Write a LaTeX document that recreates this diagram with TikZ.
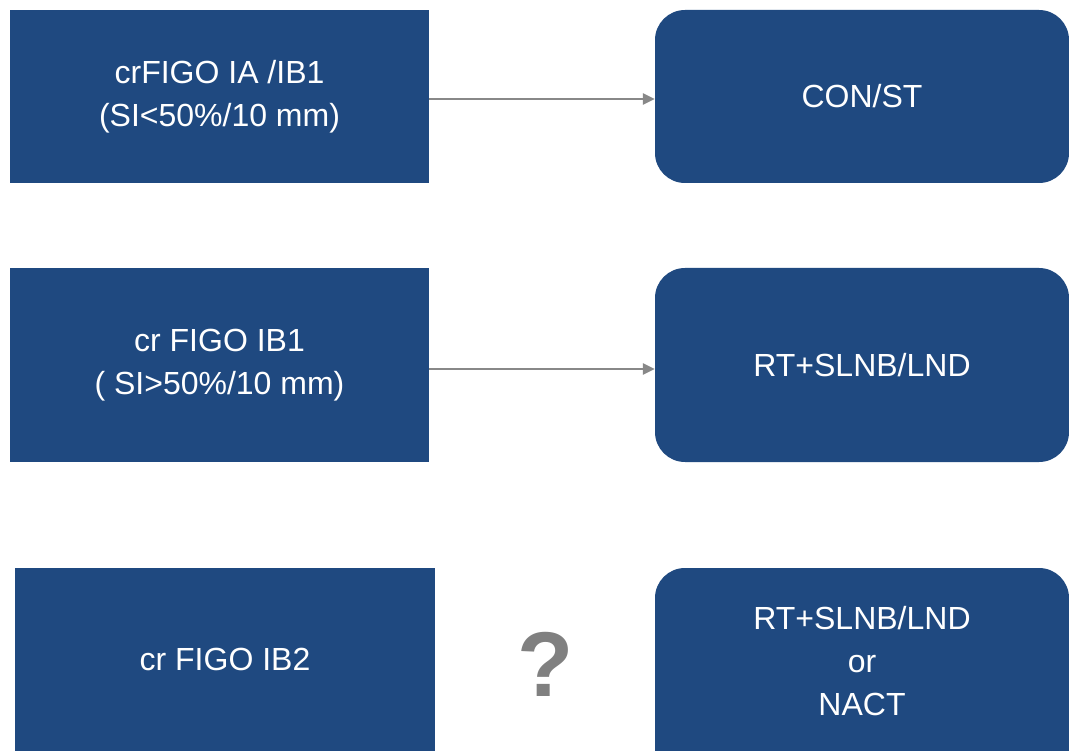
\documentclass[tikz,border=0pt]{standalone}
\usepackage{fontspec}
\setmainfont{Liberation Sans}
\usetikzlibrary{arrows.meta}
\definecolor{boxblue}{RGB}{31,73,128}
\definecolor{arrgray}{RGB}{136,136,136}
\definecolor{qgray}{RGB}{128,128,128}
\tikzset{
  lbox/.style={fill=boxblue, text=white, inner sep=0pt, align=center,
    font=\fontsize{32}{43}\selectfont},
  rbox/.style={lbox, rounded corners=30pt},
  conn/.style={draw=arrgray, line width=2.8pt, -{Triangle[length=12pt,width=11pt]}},
}
\begin{document}
\begin{tikzpicture}[x=1pt,y=-1pt]
\useasboundingbox (0,0) rectangle (1069,751);
\clip (0,0) rectangle (1069,751);
\fill[white] (0,0) rectangle (1069,751);
% row 1
\node[lbox, minimum width=419pt, minimum height=173pt] (l1) at (219.5,96.5) {crFIGO IA /IB1\\(SI<50\%/10 mm)};
\node[rbox, minimum width=414pt, minimum height=173pt] (r1) at (862,96.5) {CON/ST};
% row 2
\node[lbox, minimum width=419pt, minimum height=194pt] (l2) at (219.5,365) {cr FIGO IB1\\( SI>50\%/10 mm)};
\node[rbox, minimum width=414pt, minimum height=194pt] (r2) at (862,365) {RT+SLNB/LND};
% row 3
\node[lbox, minimum width=420pt, minimum height=183pt] (l3) at (225,659.5) {cr FIGO IB2};
\fill[boxblue] (655,700) rectangle (1069,751);
\node[rbox, minimum width=414pt, minimum height=186pt] (r3) at (862,661) {RT+SLNB/LND\\or\\NACT};
\node[text=qgray, font=\fontsize{92}{92}\selectfont\bfseries, inner sep=0pt] (q) at (546,664) {?};
% connectors
\draw[conn] ([yshift=-2.5pt]l1.east) -- ([yshift=-2.5pt]r1.west);
\draw[conn] ([yshift=-4pt]l2.east) -- ([yshift=-4pt]r2.west);
\end{tikzpicture}
\end{document}
